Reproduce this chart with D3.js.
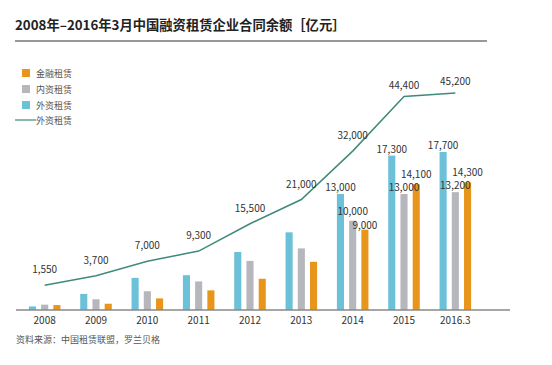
<!DOCTYPE html>
<html>
<head>
<meta charset="utf-8">
<script src="https://cdn.jsdelivr.net/npm/d3@7"></script>
<style>
  body { margin: 0; background: #fff; }
  svg { display: block; font-family: "Noto Sans CJK SC", "Noto Sans", sans-serif; }
</style>
</head>
<body>
<svg id="chart" width="552" height="365"></svg>
<script>
// data (亿元)
const years = ['2008', '2009', '2010', '2011', '2012', '2013', '2014', '2015', '2016.3'];
const foreign = [400, 1800, 3600, 3900, 6500, 8700, 13000, 17300, 17700];   // 外资租赁
const domestic = [600, 1200, 2100, 3200, 5500, 6900, 10000, 13000, 13200]; // 内资租赁
const financial = [550, 700, 1300, 2200, 3500, 5400, 9000, 14100, 14300];  // 金融租赁
const total = [1550, 3700, 7000, 9300, 15500, 21000, 32000, 44400, 45200];
const labelledYears = ['2014', '2015', '2016.3'];

const colors = { foreign: '#6bc1d7', domestic: '#b5b7bc', financial: '#e8951c', line: '#3f8a7a' };

const svg = d3.select('#chart');

// title
svg.append('text')
  .attr('x', 15).attr('y', 30)
  .attr('font-size', 13.3).attr('font-weight', 'bold').attr('fill', '#222')
  .text('2008年–2016年3月中国融资租赁企业合同余额［亿元］');
svg.append('line')
  .attr('x1', 15).attr('x2', 487).attr('y1', 41).attr('y2', 41)
  .attr('stroke', '#333').attr('stroke-width', 1);

// scales
const baseline = 310;
const x = d3.scaleBand().domain(years).range([19, 481]);
const y = d3.scaleLinear().domain([0, 17700]).range([baseline, 152]);
const yLine = d3.scaleLinear().domain([0, 45200]).range([292, 93]);
const sub = d3.scaleBand().domain(['foreign', 'domestic', 'financial']).range([-17, 17]).paddingInner(0.42).paddingOuter(0.1);

const rows = years.map((yr, i) => ({ year: yr, foreign: foreign[i], domestic: domestic[i], financial: financial[i] }));
const keys = ['foreign', 'domestic', 'financial'];

const groups = svg.append('g').selectAll('g')
  .data(rows)
  .join('g')
  .attr('transform', d => `translate(${x(d.year) + x.bandwidth() / 2},0)`);

groups.selectAll('rect')
  .data(d => keys.map(k => ({ key: k, value: d[k], year: d.year })))
  .join('rect')
  .attr('x', d => sub(d.key))
  .attr('width', sub.bandwidth())
  .attr('y', d => y(d.value))
  .attr('height', d => baseline - y(d.value))
  .attr('fill', d => colors[d.key]);

// small nudges so the crowded labels don't sit on top of each other
function labelDy(d) {
  if (d.year === '2014') return d.key === 'domestic' ? -6 : d.key === 'financial' ? -1 : -3;
  return d.key === 'financial' ? -6 : -3;
}

groups.selectAll('text.val')
  .data(d => labelledYears.includes(d.year) ? keys.map(k => ({ key: k, value: d[k], year: d.year })) : [])
  .join('text')
  .attr('class', 'val')
  .attr('x', d => sub(d.key) + sub.bandwidth() / 2)
  .attr('y', d => y(d.value) + labelDy(d))
  .attr('text-anchor', 'middle')
  .attr('font-size', 10).attr('fill', '#333')
  .text(d => d3.format(',')(d.value));

// axis
svg.append('line')
  .attr('x1', 16).attr('x2', 510).attr('y1', baseline).attr('y2', baseline)
  .attr('stroke', '#888').attr('stroke-width', 1.5);

svg.append('g').selectAll('text')
  .data(years)
  .join('text')
  .attr('x', d => x(d) + x.bandwidth() / 2)
  .attr('y', 324)
  .attr('text-anchor', 'middle')
  .attr('font-size', 10).attr('fill', '#333')
  .text(d => d);

// line
const line = d3.line()
  .x((d, i) => x(years[i]) + x.bandwidth() / 2)
  .y(d => yLine(d));

svg.append('path')
  .datum(total)
  .attr('d', line)
  .attr('fill', 'none')
  .attr('stroke', colors.line)
  .attr('stroke-width', 1.5);

svg.append('g').selectAll('text')
  .data(total)
  .join('text')
  .attr('x', (d, i) => x(years[i]) + x.bandwidth() / 2)
  .attr('y', (d, i) => yLine(d) - (i >= 7 ? 8 : 12))
  .attr('text-anchor', 'middle')
  .attr('font-size', 10).attr('fill', '#333')
  .text(d => d3.format(',')(d));

// legend
const legend = [
  { label: '金融租赁', key: 'financial', y: 73 },
  { label: '内资租赁', key: 'domestic', y: 89 },
  { label: '外资租赁', key: 'foreign', y: 105 }
];
const lg = svg.append('g');
lg.selectAll('rect')
  .data(legend)
  .join('rect')
  .attr('x', 22).attr('y', d => d.y - 4)
  .attr('width', 8).attr('height', 8)
  .attr('fill', d => colors[d.key]);
lg.selectAll('text')
  .data(legend)
  .join('text')
  .attr('x', 36).attr('y', d => d.y + 3.5)
  .attr('font-size', 9).attr('fill', '#555')
  .text(d => d.label);
lg.append('line')
  .attr('x1', 15).attr('x2', 36).attr('y1', 120).attr('y2', 120)
  .attr('stroke', colors.line).attr('stroke-width', 1.2);
lg.append('text')
  .attr('x', 36).attr('y', 123.5)
  .attr('font-size', 9).attr('fill', '#555')
  .text('外资租赁');

// source
svg.append('text')
  .attr('x', 16).attr('y', 343)
  .attr('font-size', 9).attr('fill', '#555')
  .text('资料来源：中国租赁联盟，罗兰贝格');
</script>
</body>
</html>
